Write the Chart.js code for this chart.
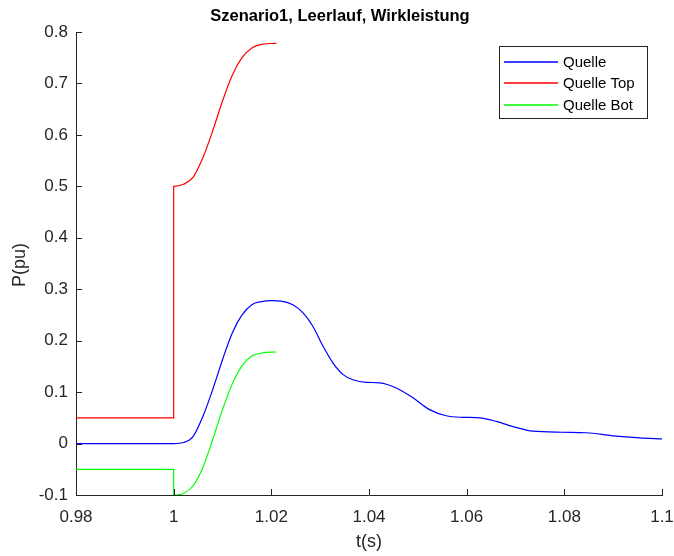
<!DOCTYPE html>
<html>
<head>
<meta charset="utf-8">
<script src="https://cdn.jsdelivr.net/npm/chart.js@4"></script>
<style>
  html, body { margin: 0; padding: 0; background: #fff; }
  #wrap { width: 674px; height: 556px; }
</style>
</head>
<body>
<div id="wrap"><canvas id="grafico" width="674" height="556"></canvas></div>
<script>
// Werte
const tQuelle = [0.98, 1.0, 1.002, 1.004, 1.006, 1.008, 1.010, 1.012, 1.014, 1.016, 1.018, 1.020, 1.022,
  1.0244, 1.0265, 1.0285, 1.0306, 1.0326, 1.0347, 1.0367, 1.0395, 1.0422, 1.0456, 1.049, 1.0524, 1.0558,
  1.0592, 1.0627, 1.0661, 1.0695, 1.0736, 1.0797, 1.0845, 1.09, 1.0954, 1.1];
const pQuelle = [0, 0, 0.002, 0.014, 0.053, 0.105, 0.163, 0.215, 0.250, 0.270, 0.276, 0.278, 0.277,
  0.270, 0.254, 0.228, 0.189, 0.157, 0.134, 0.124, 0.119, 0.118, 0.108, 0.089, 0.066, 0.054,
  0.051, 0.050, 0.043, 0.033, 0.024, 0.022, 0.021, 0.015, 0.011, 0.009];

const tTop = [0.98, 1.0, 1.0, 1.002, 1.004, 1.006, 1.008, 1.010, 1.012, 1.014, 1.016, 1.018, 1.021];
const pTop = [0.05, 0.05, 0.5, 0.504, 0.518, 0.556, 0.608, 0.666, 0.716, 0.750, 0.769, 0.776, 0.778];

const tBot = [0.98, 1.0, 1.0, 1.002, 1.004, 1.006, 1.008, 1.010, 1.012, 1.014, 1.016, 1.018, 1.021];
const pBot = [-0.05, -0.05, -0.1, -0.097, -0.082, -0.046, 0.008, 0.066, 0.116, 0.151, 0.170, 0.176, 0.178];

const xTicks = [0.98, 1.0, 1.02, 1.04, 1.06, 1.08, 1.1];
const yTicks = [-0.1, 0, 0.1, 0.2, 0.3, 0.4, 0.5, 0.6, 0.7, 0.8];

const serien = ['Quelle', 'Quelle Top', 'Quelle Bot'];
const farben = ['#0000ff', '#ff0000', '#00ff00'];

const titel = 'Szenario1, Leerlauf, Wirkleistung';
const xTitel = 't(s)';
const yTitel = 'P(pu)';

const achsenFarbe = '#262626';
const schrift = '"Liberation Sans", Arial, sans-serif';

const punkte = (t, p) => t.map((x, i) => ({ x: x, y: p[i] }));

// Titel, Achsentitel, Ticks nach innen, Legende im Diagramm
const matlabStil = {
  id: 'matlabStil',
  afterDraw(chart) {
    const ctx = chart.ctx;
    const { left, right, top, bottom } = chart.chartArea;
    const sx = chart.scales.x, sy = chart.scales.y;

    ctx.save();
    ctx.strokeStyle = achsenFarbe;
    ctx.lineWidth = 1;
    ctx.beginPath();
    xTicks.forEach(v => {
      const px = Math.round(sx.getPixelForValue(v)) + 0.5;
      ctx.moveTo(px, bottom);
      ctx.lineTo(px, bottom - 6);
    });
    yTicks.forEach(v => {
      const py = Math.round(sy.getPixelForValue(v)) + 0.5;
      ctx.moveTo(left, py);
      ctx.lineTo(left + 6, py);
    });
    ctx.stroke();

    // Titel
    ctx.fillStyle = '#000';
    ctx.font = 'bold 16.5px ' + schrift;
    ctx.textAlign = 'center';
    ctx.textBaseline = 'middle';
    ctx.fillText(titel, 340, 16);

    // Achsentitel
    ctx.fillStyle = achsenFarbe;
    ctx.font = '18px ' + schrift;
    ctx.fillText(xTitel, (left + right) / 2, 542);
    ctx.translate(20, 265);
    ctx.rotate(-Math.PI / 2);
    ctx.fillText(yTitel, 0, 0);
    ctx.restore();

    // Legende
    ctx.save();
    ctx.fillStyle = '#fff';
    ctx.fillRect(499.5, 46.5, 148, 72);
    ctx.strokeStyle = achsenFarbe;
    ctx.lineWidth = 1;
    ctx.strokeRect(499.5, 46.5, 148, 72);
    ctx.font = '15px ' + schrift;
    ctx.textAlign = 'left';
    ctx.textBaseline = 'middle';
    const zeilen = [62, 83, 105];
    serien.forEach((name, i) => {
      const y = zeilen[i];
      ctx.beginPath();
      ctx.strokeStyle = farben[i];
      ctx.lineWidth = 1.6;
      ctx.moveTo(504, y);
      ctx.lineTo(558, y);
      ctx.stroke();
      ctx.fillStyle = '#000';
      ctx.fillText(name, 563, y + 1);
    });
    ctx.restore();
  }
};

const fmt = v => String(parseFloat(Number(v).toFixed(2)));

new Chart(document.querySelector('#grafico'), {
  type: 'line',
  data: {
    datasets: [
      { label: serien[0], data: punkte(tQuelle, pQuelle), borderColor: farben[0] },
      { label: serien[1], data: punkte(tTop, pTop), borderColor: farben[1] },
      { label: serien[2], data: punkte(tBot, pBot), borderColor: farben[2] }
    ]
  },
  options: {
    responsive: false,
    animation: false,
    layout: { autoPadding: false, padding: { left: 0, right: 12, top: 32, bottom: 0 } },
    elements: {
      point: { radius: 0 },
      line: { borderWidth: 1.2, cubicInterpolationMode: 'monotone', fill: false }
    },
    plugins: { legend: { display: false }, title: { display: false }, tooltip: { enabled: false } },
    scales: {
      x: {
        type: 'linear',
        min: 0.98,
        max: 1.1,
        afterBuildTicks: s => { s.ticks = xTicks.map(v => ({ value: v })); },
        afterFit: s => { s.height = 61; s.paddingLeft = 0; s.paddingRight = 0; },
        grid: { display: false },
        border: { display: true, color: achsenFarbe, width: 1 },
        ticks: { color: achsenFarbe, font: { family: schrift, size: 17 }, padding: 4, maxRotation: 0, autoSkip: false, callback: fmt }
      },
      y: {
        min: -0.1,
        max: 0.8,
        afterBuildTicks: s => { s.ticks = yTicks.map(v => ({ value: v })); },
        afterFit: s => { s.width = 76; s.paddingTop = 0; s.paddingBottom = 0; },
        grid: { display: false },
        border: { display: true, color: achsenFarbe, width: 1 },
        ticks: { color: achsenFarbe, font: { family: schrift, size: 17 }, padding: 0, autoSkip: false, callback: fmt }
      }
    }
  },
  plugins: [matlabStil]
});
</script>
</body>
</html>
